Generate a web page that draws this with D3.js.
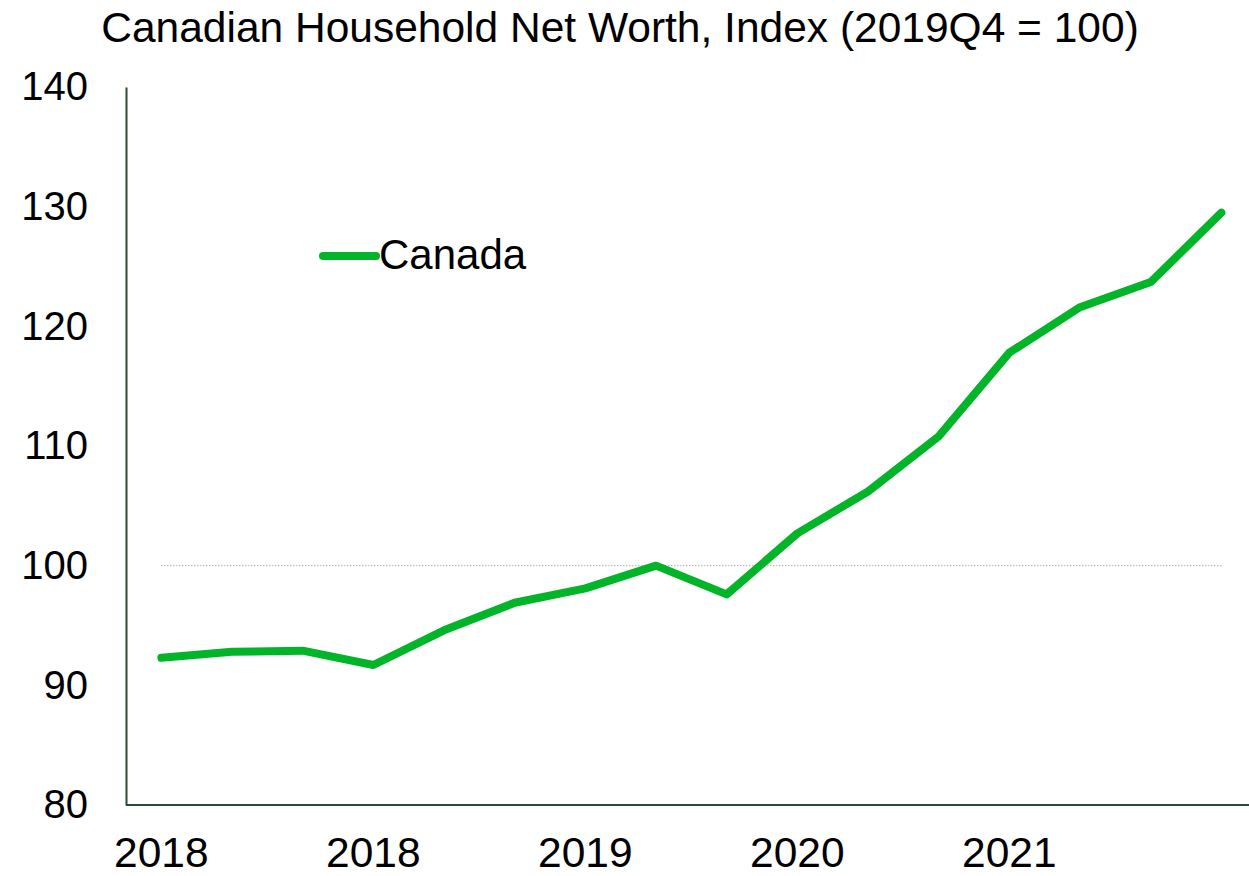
<!DOCTYPE html>
<html><head><meta charset="utf-8">
<script src="https://cdn.jsdelivr.net/npm/d3@7"></script>
<style>body{margin:0;background:#fff}svg{display:block}text{font-family:"Liberation Sans",Arial,sans-serif;fill:#000}</style>
</head><body><svg id="c" width="1249" height="876"></svg>
<script>
const quarters = ["2018Q1","2018Q2","2018Q3","2018Q4","2019Q1","2019Q2","2019Q3","2019Q4","2020Q1","2020Q2","2020Q3","2020Q4","2021Q1","2021Q2","2021Q3","2021Q4"];
const canada = [92.3,92.8,92.9,91.7,94.6,96.9,98.1,100.0,97.6,102.7,106.2,110.8,117.8,121.6,123.7,129.5];
const xTickLabels = {"2018Q1":"2018","2018Q4":"2018","2019Q3":"2019","2020Q2":"2020","2021Q1":"2021"};
const yTicks = [80,90,100,110,120,130,140];
const title = "Canadian Household Net Worth, Index (2019Q4 = 100)";
const seriesName = "Canada";

const svg = d3.select("#c");
const x = d3.scaleBand().domain(quarters).range([126, 1256.7]);
const y = d3.scaleLinear().domain([80,140]).range([805, 87]);
const cx = q => x(q) + x.bandwidth()/2;
const axisColor = "#2f4a33";

svg.append("text").attr("x", 620).attr("y", 42).attr("text-anchor","middle")
  .attr("font-size", 42.5).text(title);

// reference line at 100
svg.append("line").attr("x1", cx(quarters[0])).attr("x2", cx(quarters[quarters.length-1]))
  .attr("y1", y(100)).attr("y2", y(100))
  .attr("stroke","#8c8c8c").attr("stroke-width",1).attr("stroke-dasharray","1,2");

// y axis
const yAxis = svg.append("g").attr("transform","translate(126,0)")
  .call(d3.axisLeft(y).tickValues(yTicks).tickSize(0).tickPadding(38));
yAxis.select(".domain").attr("stroke", axisColor).attr("stroke-width", 2);
yAxis.selectAll("text").attr("font-size", 40).attr("font-family","Liberation Sans, Arial, sans-serif").attr("fill","#000");

// x axis
const xAxis = svg.append("g").attr("transform","translate(0,805)")
  .call(d3.axisBottom(x).tickValues(Object.keys(xTickLabels)).tickFormat(q => xTickLabels[q]).tickSize(0).tickPadding(32));
xAxis.select(".domain").attr("d","M126,0H1249").attr("stroke", axisColor).attr("stroke-width", 2);
xAxis.selectAll("text").attr("font-size", 42.5).attr("font-family","Liberation Sans, Arial, sans-serif").attr("fill","#000");

// line
const green = "#02b528";
svg.append("path").datum(quarters.map((q,i)=>[q,canada[i]]))
  .attr("fill","none").attr("stroke",green).attr("stroke-width",8)
  .attr("stroke-linejoin","round").attr("stroke-linecap","round")
  .attr("d", d3.line().x(d=>cx(d[0])).y(d=>y(d[1])));

// legend
svg.append("line").attr("x1",323).attr("x2",376).attr("y1",256).attr("y2",256)
  .attr("stroke",green).attr("stroke-width",8).attr("stroke-linecap","round");
svg.append("text").attr("x",379).attr("y",269).attr("font-size",42).text(seriesName);
</script></body></html>
